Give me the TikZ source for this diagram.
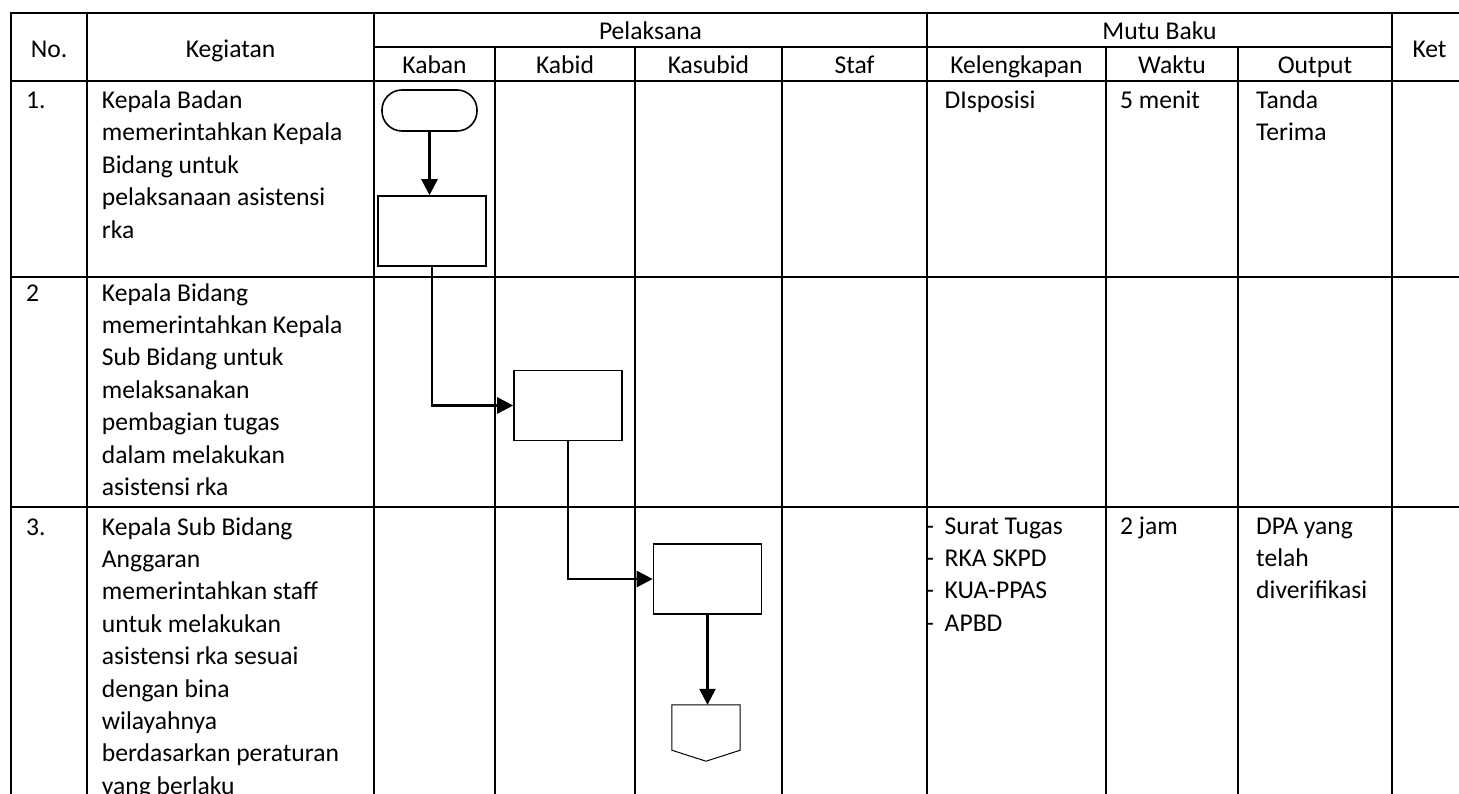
\documentclass[tikz,border=0pt]{standalone}
\usepackage{fontspec}
\setmainfont{Carlito}
\usetikzlibrary{arrows.meta}
\newcommand\celltext[1]{\begin{tabular}[t]{@{}l@{}}#1\end{tabular}}
\newcommand\dashlist[1]{\begin{tabular}[t]{@{}l@{\hspace{10.7pt}}l@{}}#1\end{tabular}}
\begin{document}
\begin{tikzpicture}[x=1pt,y=-1pt,
  grid/.style={line width=2.4pt, line cap=rect},
  txt/.style={inner sep=0pt, font=\fontsize{25.6pt}{32.4pt}\selectfont},
  hd/.style={txt, anchor=base},
  cell/.style={txt, anchor=base west},
  proc/.style={draw, line width=1.6pt, minimum width=108pt, minimum height=70pt, inner sep=0pt},
  term/.style={draw, line width=1.6pt, minimum width=95pt, minimum height=41pt, rounded corners=20pt, inner sep=0pt},
  flow/.style={line width=2.6pt, -{Triangle[length=16pt,width=16pt]}},
]
\useasboundingbox (0,0) rectangle (1459,793);
\fill[white] (0,0) rectangle (1459,793);

% table grid
\draw[grid] (11,13) -- (1459,13);
\draw[grid] (374,47) -- (1392,47);
\draw[grid] (11,81) -- (1459,81);
\draw[grid] (11,277) -- (1459,277);
\draw[grid] (11,507) -- (1459,507);
\foreach \x in {11,87,374,927,1392} \draw[grid] (\x,13) -- (\x,793);
\foreach \x in {495,635,782,1106,1238} \draw[grid] (\x,47) -- (\x,793);

% header
\node[hd] (hno) at (49,57) {No.};
\node[hd] (hkeg) at (230.5,57) {Kegiatan};
\node[hd] (hpel) at (650.5,39) {Pelaksana};
\node[hd] (hmutu) at (1159.5,39) {Mutu Baku};
\node[hd] (hket) at (1429.5,57) {Ket};
\node[hd] (hkaban) at (434.5,73) {Kaban};
\node[hd] (hkabid) at (565,73) {Kabid};
\node[hd] (hkasubid) at (708.5,73) {Kasubid};
\node[hd] (hstaf) at (854.5,73) {Staf};
\node[hd] (hkel) at (1016.5,73) {Kelengkapan};
\node[hd] (hwaktu) at (1172,73) {Waktu};
\node[hd] (hout) at (1315,73) {Output};

% row 1
\node[cell] (n1) at (26,108.5) {1.};
\node[cell] (k1) at (101.7,108.5) {\celltext{Kepala Badan\\memerintahkan Kepala\\Bidang untuk\\pelaksanaan asistensi\\rka}};
\node[cell] (l1) at (944.5,108.5) {DIsposisi};
\node[cell] (w1) at (1120,108.5) {5 menit};
\node[cell] (o1) at (1256,108.5) {\celltext{Tanda\\Terima}};

% row 2
\node[cell] (n2) at (26,301) {2};
\node[cell] (k2) at (101.7,301) {\celltext{Kepala Bidang\\memerintahkan Kepala\\Sub Bidang untuk\\melaksanakan\\pembagian tugas\\dalam melakukan\\asistensi rka}};

% row 3
\node[cell] (n3) at (26,535) {3.};
\node[cell] (k3) at (101.7,535) {\celltext{Kepala Sub Bidang\\Anggaran\\memerintahkan staff\\untuk melakukan\\asistensi rka sesuai\\dengan bina\\wilayahnya\\berdasarkan peraturan\\yang berlaku}};
\node[cell] (l3) at (926,534) {\dashlist{-&Surat Tugas\\-&RKA SKPD\\-&KUA-PPAS\\-&APBD}};
\node[cell] (w3) at (1120,534) {2 jam};
\node[cell] (o3) at (1256,534) {\celltext{DPA yang\\telah\\diverifikasi}};

% flowchart
\node[term] (t1) at (429.5,110.5) {};
\node[proc] (b1) at (432,231) {};
\node[proc] (b2) at (568,405.5) {};
\node[proc] (b3) at (707.5,579) {};
\node[inner sep=0pt, minimum width=68pt, minimum height=45pt] (opc) at (706,727.5) {};
\draw[line width=1pt] (opc.north west) -- (opc.north east) -- (opc.south east) -- ([yshift=-11pt]opc.south) -- (opc.south west) -- cycle;

\draw[flow] (t1.south) -- (t1.south |- b1.north);
\draw[flow] (b1.south) |- (b2.west);
\draw[flow] (b2.south) |- (b3.west);
\draw[flow] (b3.south) -- (b3.south |- opc.north);
\end{tikzpicture}
\end{document}
